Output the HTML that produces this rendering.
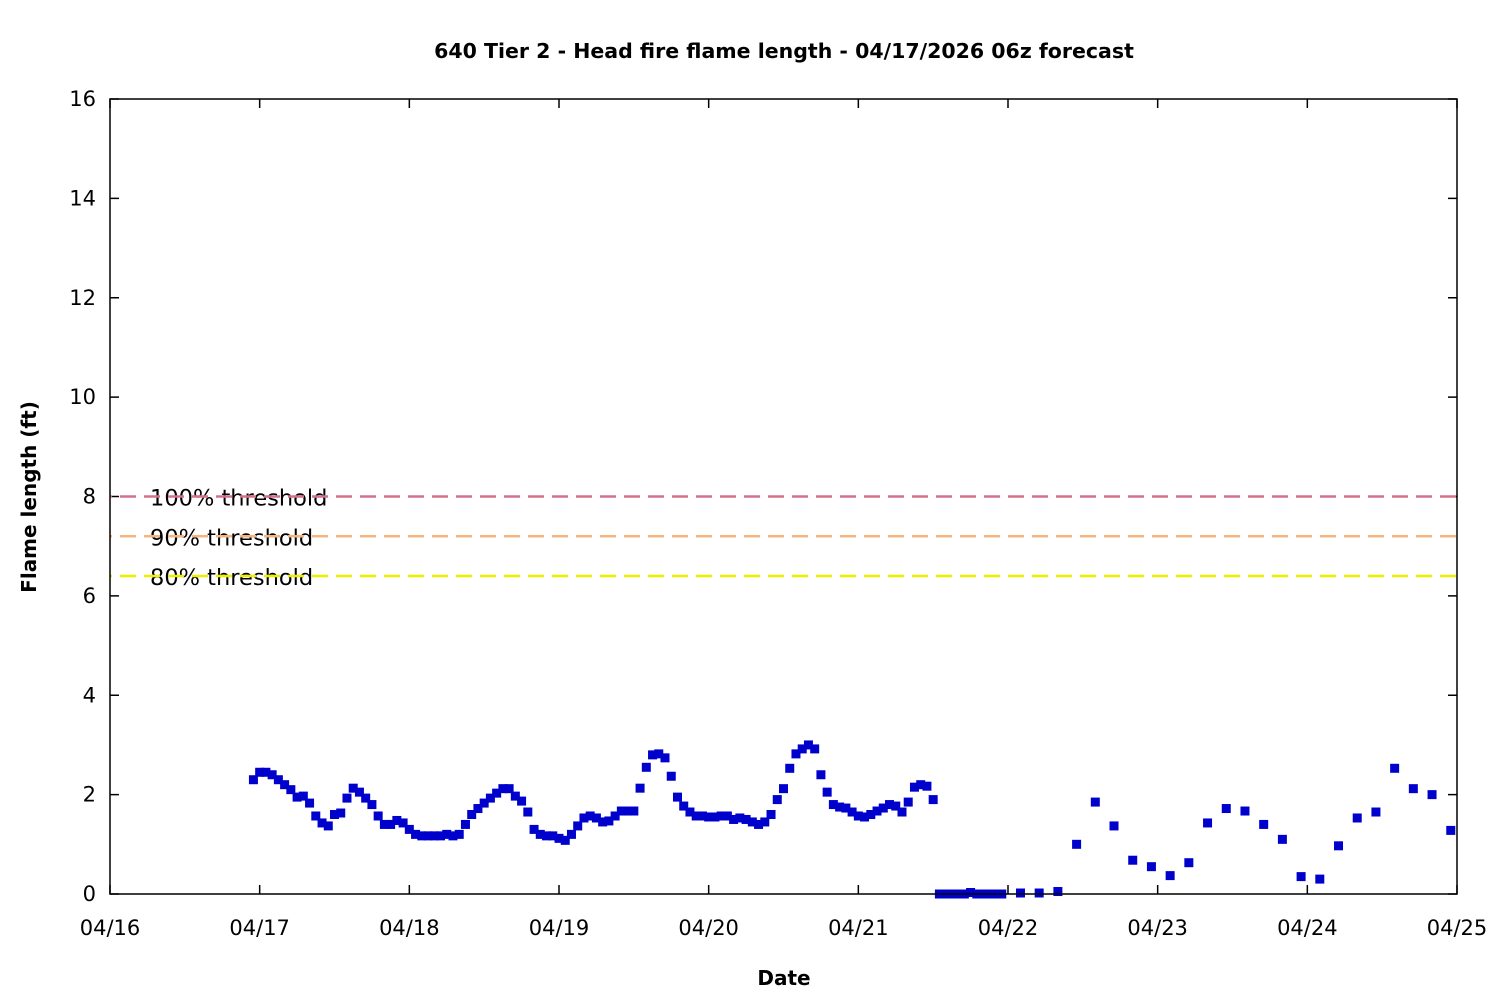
<!DOCTYPE html>
<html><head><meta charset="utf-8"><style>
html,body{margin:0;padding:0;background:#fff;}
svg{display:block;font-family:"DejaVu Sans","Liberation Sans",sans-serif;}
</style></head><body>
<svg id="chart" width="1500" height="1000">
<text x="784" y="58" text-anchor="middle" font-size="20.5" font-weight="bold">640 Tier 2 - Head fire flame length - 04/17/2026 06z forecast</text>
<text x="784" y="985" text-anchor="middle" font-size="20" font-weight="bold">Date</text>
<text transform="translate(36,497) rotate(-90)" text-anchor="middle" font-size="20" font-weight="bold">Flame length (ft)</text>
<g id="axes"></g><g id="thr"></g><g id="pts"></g>
<rect x="110" y="99" width="1347" height="795" fill="none" stroke="#000" stroke-width="1.5"/>
</svg>
<script>
const xTickLabels=["04/16","04/17","04/18","04/19","04/20","04/21","04/22","04/23","04/24","04/25"];
const yTicks=[0,2,4,6,8,10,12,14,16];
const thresholdNames=["100% threshold","90% threshold","80% threshold"];
const thresholdValues=[8,7.2,6.4];
const thresholdColors=["#d6708a","#f5b57f","#eeee00"];
const hourlyStart=-1;
const hourlyValues=[2.3,2.45,2.45,2.4,2.3,2.2,2.1,1.95,1.97,1.83,1.57,1.43,1.37,1.6,1.63,1.93,2.13,2.05,1.93,1.8,1.57,1.4,1.4,1.48,1.43,1.3,1.2,1.17,1.17,1.17,1.17,1.2,1.17,1.2,1.4,1.6,1.72,1.83,1.93,2.03,2.12,2.12,1.97,1.87,1.65,1.3,1.2,1.17,1.17,1.12,1.08,1.2,1.37,1.53,1.57,1.53,1.45,1.47,1.57,1.67,1.67,1.67,2.13,2.55,2.8,2.82,2.74,2.37,1.95,1.77,1.65,1.57,1.57,1.55,1.55,1.57,1.57,1.5,1.53,1.5,1.45,1.4,1.45,1.6,1.9,2.12,2.53,2.82,2.92,3.0,2.92,2.4,2.05,1.8,1.75,1.73,1.65,1.57,1.55,1.6,1.67,1.73,1.8,1.77,1.65,1.85,2.15,2.2,2.17,1.9,0,0,0,0,0,0.03,0,0,0,0,0];
const threeHourStart=122;
const threeHourValues=[0.02,0.02,0.05,1.0,1.85,1.37,0.68,0.55,0.37,0.63,1.43,1.72,1.67,1.4,1.1,0.35,0.3,0.97,1.53,1.65,2.53,2.12,2.0,1.28];
const NS="http://www.w3.org/2000/svg";
const X0=110,X1=1457,Y0=894,Y1=99;
const xScale=h=>X0+(h+24)/(24*9)*(X1-X0);
const yScale=v=>Y0-v/16*(Y0-Y1);
function mk(tag,attrs,parent){const e=document.createElementNS(NS,tag);for(const k in attrs)e.setAttribute(k,attrs[k]);parent.appendChild(e);return e;}
const axes=document.getElementById('axes');
xTickLabels.forEach((l,i)=>{const x=xScale((i-1)*24);
 const t1=mk('line',{x1:x,x2:x,y1:Y0,y2:Y0-9,stroke:'#000','stroke-width':1.5},axes);
 
 const t2=mk('line',{x1:x,x2:x,y1:Y1,y2:Y1+9,stroke:'#000','stroke-width':1.5},axes);
 
 const tx=mk('text',{x:x,y:935,'text-anchor':'middle','font-size':21},axes);tx.textContent=l;
 });
yTicks.forEach(v=>{const y=yScale(v);
 const t1=mk('line',{x1:X0,x2:X0+9,y1:y,y2:y,stroke:'#000','stroke-width':1.5},axes);
 
 const t2=mk('line',{x1:X1,x2:X1-9,y1:y,y2:y,stroke:'#000','stroke-width':1.5},axes);
 
 const tx=mk('text',{x:96,y:y+7,'text-anchor':'end','font-size':21},axes);tx.textContent=v;
 });
const thr=document.getElementById('thr');
thresholdValues.forEach((v,i)=>{const y=yScale(v);
 const tx=mk('text',{x:150,y:y+9,'font-size':22.5},thr);tx.textContent=thresholdNames[i];
 
 const ln=mk('line',{x1:X0,x2:X1,y1:y,y2:y,stroke:thresholdColors[i],'stroke-width':2.5,'stroke-dasharray':'16 8','stroke-dashoffset':-10},thr);
 });
const pts=document.getElementById('pts');
function pt(h,v){const r=mk('rect',{x:xScale(h)-4.5,y:yScale(v)-4.5,width:9,height:9,fill:'#0000cc'},pts);
 }
hourlyValues.forEach((v,i)=>pt(hourlyStart+i,v));
threeHourValues.forEach((v,i)=>pt(threeHourStart+3*i,v));
</script>
</body></html>
